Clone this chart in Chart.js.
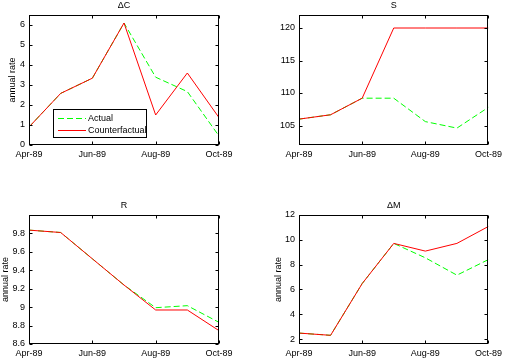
<!DOCTYPE html>
<html>
<head>
<meta charset="utf-8">
<script src="https://cdn.jsdelivr.net/npm/chart.js@4"></script>
<style>
  html, body { margin: 0; padding: 0; background: #fff; }
  #wrap { position: relative; width: 506px; height: 360px; overflow: hidden; }
  canvas { position: absolute; }
</style>
</head>
<body>
<div id="wrap">
  <canvas id="c1" width="253" height="180" style="left:0;top:0"></canvas>
  <canvas id="c2" width="253" height="180" style="left:253px;top:0"></canvas>
  <canvas id="c3" width="253" height="180" style="left:0;top:180px"></canvas>
  <canvas id="c4" width="253" height="180" style="left:253px;top:180px"></canvas>
</div>
<script>
// ---- data ----
const months = ['Apr-89', 'May-89', 'Jun-89', 'Jul-89', 'Aug-89', 'Sep-89', 'Oct-89'];
const xTicks = [0, 2, 4, 6];
const seriesNames = ['Actual', 'Counterfactual'];

const dC_actual  = [0.9, 2.58, 3.34, 6.1, 3.39, 2.67, 0.45];
const dC_counter = [0.9, 2.58, 3.34, 6.1, 1.5, 3.6, 1.37];
const dC_ticks   = [0, 1, 2, 3, 4, 5, 6];

const S_actual  = [105.98, 106.65, 109.2, 109.2, 105.6, 104.6, 107.8];
const S_counter = [105.98, 106.65, 109.2, 120, 120, 120, 120];
const S_ticks   = [105, 110, 115, 120];

const R_actual  = [9.836, 9.81, 9.525, 9.24, 8.994, 9.016, 8.835];
const R_counter = [9.836, 9.81, 9.525, 9.24, 8.969, 8.969, 8.745];
const R_ticks   = [8.6, 8.8, 9, 9.2, 9.4, 9.6, 9.8];

const dM_actual  = [2.48, 2.30, 6.47, 9.71, 8.55, 7.15, 8.41];
const dM_counter = [2.48, 2.30, 6.47, 9.71, 9.09, 9.71, 11.08];
const dM_ticks   = [2, 4, 6, 8, 10, 12];

// ---- styling ----
const FONT = "'Liberation Sans', Arial, sans-serif";
const GREEN = '#00ff00';
const RED = '#ff0000';
const DASH = [6, 3];

const framePlugin = {
  id: 'frame',
  afterDraw(chart, args, opts) {
    const { ctx, chartArea: a, scales: { x, y } } = chart;
    const L = Math.round(a.left) + 0.5, R = Math.round(a.right) - 0.5;
    const T = Math.round(a.top) + 0.5, B = Math.round(a.bottom) - 0.5;
    ctx.save();
    ctx.strokeStyle = '#000';
    ctx.lineWidth = 1;
    ctx.strokeRect(L, T, R - L, B - T);
    ctx.beginPath();
    const tl = 3;
    x.ticks.forEach(t => {
      const px = Math.round(x.getPixelForValue(t.value)) + 0.5;
      ctx.moveTo(px, B); ctx.lineTo(px, B - tl);
      ctx.moveTo(px, T); ctx.lineTo(px, T + tl);
    });
    y.ticks.forEach(t => {
      const py = Math.round(y.getPixelForValue(t.value)) + 0.5;
      ctx.moveTo(L, py); ctx.lineTo(L + tl, py);
      ctx.moveTo(R, py); ctx.lineTo(R - tl, py);
    });
    ctx.stroke();
    // title
    ctx.fillStyle = '#000';
    ctx.font = '9px ' + FONT;
    ctx.textAlign = 'center';
    ctx.textBaseline = 'middle';
    ctx.fillText(opts.title, (a.left + a.right) / 2, a.top - 9);
    // legend
    if (opts.legend) {
      const lx = a.left + 24, ly = a.top + 94, lw = 93, lh = 28;
      ctx.fillStyle = '#fff';
      ctx.fillRect(lx, ly, lw, lh);
      ctx.strokeRect(Math.round(lx) + 0.5, Math.round(ly) + 0.5, lw, lh);
      chart.data.datasets.slice().sort((p, q) => seriesNames.indexOf(p.label) - seriesNames.indexOf(q.label)).forEach((ds, i) => {
        const yy = Math.round(ly + 9 + i * 12) + 0.5;
        ctx.beginPath();
        ctx.strokeStyle = ds.borderColor;
        ctx.setLineDash(ds.borderDash || []);
        ctx.moveTo(lx + 5, yy); ctx.lineTo(lx + 33, yy);
        ctx.stroke();
        ctx.setLineDash([]);
        ctx.fillStyle = '#000';
        ctx.textAlign = 'left';
        ctx.fillText(ds.label, lx + 35, yy);
      });
    }
    ctx.restore();
  }
};

function makePanel(id, title, actual, counter, yMin, yMax, yTicks, yLabel, geo) {
  const pts = arr => arr.map((v, i) => ({ x: i, y: v }));
  new Chart(document.getElementById(id), {
    type: 'line',
    data: {
      datasets: [
        { label: seriesNames[1], data: pts(counter), borderColor: RED, borderWidth: 1, pointRadius: 0, tension: 0, order: 0 },
        { label: seriesNames[0], data: pts(actual), borderColor: GREEN, borderWidth: 1, borderDash: DASH, pointRadius: 0, tension: 0, order: 1 }
      ]
    },
    options: {
      responsive: false,
      animation: false,
      devicePixelRatio: 1,
      layout: { padding: { left: 0, top: geo.top, right: geo.right, bottom: 0 } },
      plugins: {
        legend: { display: false },
        title: { display: false },
        tooltip: { enabled: false },
        frame: { title: title, legend: !!geo.legend }
      },
      scales: {
        x: {
          type: 'linear', min: 0, max: 6,
          grid: { display: false, drawTicks: false },
          border: { display: false },
          afterBuildTicks: s => { s.ticks = xTicks.map(v => ({ value: v })); },
          afterFit: s => { s.height = geo.xh; },
          ticks: { padding: 4, color: '#000', font: { family: FONT, size: 9 }, maxRotation: 0,
                   callback: v => months[v] }
        },
        y: {
          min: yMin, max: yMax,
          grid: { display: false, drawTicks: false },
          border: { display: false },
          afterBuildTicks: s => { s.ticks = yTicks.map(v => ({ value: v })); },
          afterFit: s => { s.width = geo.yw; },
          ticks: { padding: 4, color: '#000', font: { family: FONT, size: 9 },
                   callback: v => String(Math.round(v * 10) / 10) },
          title: { display: !!yLabel, text: yLabel || '', color: '#000',
                   font: { family: FONT, size: 9 }, padding: { top: geo.tp, bottom: 0 } }
        }
      }
    },
    plugins: [framePlugin]
  });
}

makePanel('c1', 'ΔC', dC_actual, dC_counter, 0, 6.5, dC_ticks, 'annual rate',
          { top: 15, right: 34, xh: 35, yw: 29, tp: 7.6, legend: true });
makePanel('c2', 'S', S_actual, S_counter, 102, 122, S_ticks, null,
          { top: 15, right: 17, xh: 35, yw: 46, tp: 0 });
makePanel('c3', 'R', R_actual, R_counter, 8.6, 10.0, R_ticks, 'annual rate',
          { top: 35, right: 34, xh: 16, yw: 29, tp: 0.6 });
makePanel('c4', 'ΔM', dM_actual, dM_counter, 1.6, 12, dM_ticks, 'annual rate',
          { top: 35, right: 17, xh: 16, yw: 46, tp: 20.6 });
</script>
</body>
</html>
